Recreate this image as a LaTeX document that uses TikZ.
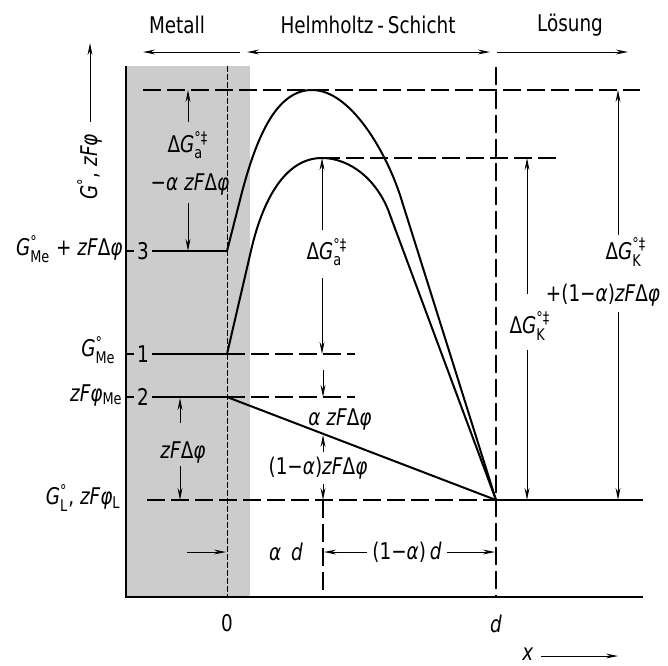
\documentclass[tikz,border=0pt]{standalone}
\usepackage{fontspec}
\usepackage{amsmath}
\setmainfont{DejaVu Sans}[FakeStretch=0.8]
\usetikzlibrary{arrows.meta}
\newcommand\supsub[2]{$^{\text{#1}}_{\text{#2}}$}
\newcommand\iv[1]{\textit{#1}}
\begin{document}
\begin{tikzpicture}[x=0.5pt,y=-0.5pt,
  font=\fontsize{11.5}{13}\selectfont,
  >={Stealth[length=6pt,width=2.4pt]},
  txt/.style={inner sep=0.5pt},
  curve/.style={line width=1pt},
  axisline/.style={line width=1pt},
  level/.style={line width=0.9pt},
  dline/.style={dash pattern=on 9pt off 3pt, line width=0.6pt},
  zeroline/.style={dash pattern=on 3pt off 1pt, line width=0.4pt},
  dim/.style={line width=0.5pt,->},
  dimboth/.style={line width=0.5pt,<->}]
\useasboundingbox (0,0) rectangle (668,665);
% metal region
\fill[black!20] (126,66) rectangle (250,597);
% key points
\coordinate (O3) at (227,251);
\coordinate (O1) at (227,354);
\coordinate (O2) at (227,397);
\coordinate (DL) at (496,500);
\coordinate (P1) at (312,90);
\coordinate (P2) at (322,158);
% dashed helper lines
\draw[dline] (143,90) -- (640,90);
\draw[dline] (P2) -- (560,158);
\draw[dline] (O1) -- (355,354);
\draw[dline] (O2) -- (355,397);
\draw[dline] (147,500) -- (DL);
\draw[dline] (496,67) -- (496,597);
\draw[dline] (323,500) -- (323,597);
\draw[zeroline] (227,66) -- (227,597);
% axes
\draw[axisline] (126,66) -- (126,597) -- (643,597);
% levels
\draw[level] (126,251) -- (134,251) (152,251) -- (O3);
\draw[level] (126,354) -- (134,354) (152,354) -- (O1);
\draw[level] (126,397) -- (134,397) (152,397) -- (O2);
\draw[level] (DL) -- (643,500);
% curves
\draw[curve] (O3) -- (241,196) .. controls (256,138) and (276,90) .. (P1)
  .. controls (350,90) and (385,150) .. (400,195) -- (DL);
\draw[curve] (O1) -- (250,255) .. controls (262,200) and (285,158) .. (P2)
  .. controls (350,158) and (378,180) .. (390,215) -- (DL);
\draw[curve] (O2) -- (DL);
% level numbers
\node[txt] (n3) at (143,251) {3};
\node[txt] (n1) at (143,354) {1};
\node[txt] (n2) at (143,397) {2};
% left labels
\node[txt,anchor=east] (l3) at (124,249) {\iv{G}\supsub{°}{Me} + \iv{zF}Δ\iv{φ}};
\node[txt,anchor=east] (l1) at (117,350) {\iv{G}\supsub{°}{Me}};
\node[txt,anchor=east] (l2) at (124,395) {\iv{zFφ}$_{\text{Me}}$};
\node[txt,anchor=east] (lL) at (122,498) {\iv{G}\supsub{°}{L}, \iv{zFφ}$_{\text{L}}$};
% top region labels
\node[txt] (met) at (177,25) {Metall};
\node[txt] (hel) at (368,25) {Helmholtz\,-\,Schicht};
\node[txt] (loe) at (570,25) {Lösung};
\draw[dim] (240,52) -- (143,52);
\draw[dimboth] (247,52) -- (490,52);
\draw[dim] (497,52) -- (628,52);
% y axis label
\node[txt,rotate=90] (ylab) at (90,167) {\iv{G}$^{\text{°}}$, \iv{zFφ}};
\draw[dim] (90,122) -- (90,43);
% dimension in metal: DeltaG_a - alpha zF dphi
\node[txt] (dga1) at (188,145) {Δ\iv{G}\supsub{°‡}{a}};
\node[txt] (dga2) at (190,185) {−\iv{α zF}Δ\iv{φ}};
\draw[dim] (188,122) -- (188,90);
\draw[dim] (188,203) -- (188,251);
% DeltaG_a
\node[txt] (dga) at (327,252) {Δ\iv{G}\supsub{°‡}{a}};
\draw[dim] (322,230) -- (P2);
\draw[dim] (322,278) -- (322,354);
% alpha zF dphi and (1-alpha) zF dphi
\draw[dim] (323,370) -- (323,397);
\node[txt] (azf) at (340,419) {\iv{α zF}Δ\iv{φ}};
\draw[dim] (323,452) -- (323,435);
\node[txt] (bzf) at (318,468) {(1−\iv{α})\iv{zF}Δ\iv{φ}};
\draw[dim] (323,484) -- (323,500);
% zF dphi in metal
\draw[dim] (180,423) -- (180,398);
\node[txt] (zfd) at (183,452) {\iv{zF}Δ\iv{φ}};
\draw[dim] (180,466) -- (180,500);
% alpha d, (1-alpha) d
\draw[dim] (187,552) -- (226,552);
\node[txt] (ad) at (286,552) {\iv{α}\, \iv{d}};
\node[txt] (bd) at (407,552) {(1−\iv{α})\,\iv{d}};
\draw[dim] ([xshift=-2pt]bd.west) -- (324,552);
\draw[dim] ([xshift=2pt]bd.east) -- (495,552);
% right dimensions
\node[txt] (dgk) at (530,326) {Δ\iv{G}\supsub{°‡}{K}};
\draw[dim] (527,294) -- (527,158);
\draw[dim] (527,350) -- (527,500);
\node[txt] (dgk2) at (626,252) {Δ\iv{G}\supsub{°‡}{K}};
\node[txt] (dgk3) at (603,295) {+(1−\iv{α})\iv{zF}Δ\iv{φ}};
\draw[dim] (618,235) -- (618,90);
\draw[dim] (618,312) -- (618,500);
% x axis labels
\node[txt] (x0) at (227,623) {0};
\node[txt] (xd) at (496,624) {\iv{d}};
\node[txt] (xx) at (528,654) {\iv{x}};
\draw[dim] (541,656) -- (618,656);
\end{tikzpicture}
\end{document}
